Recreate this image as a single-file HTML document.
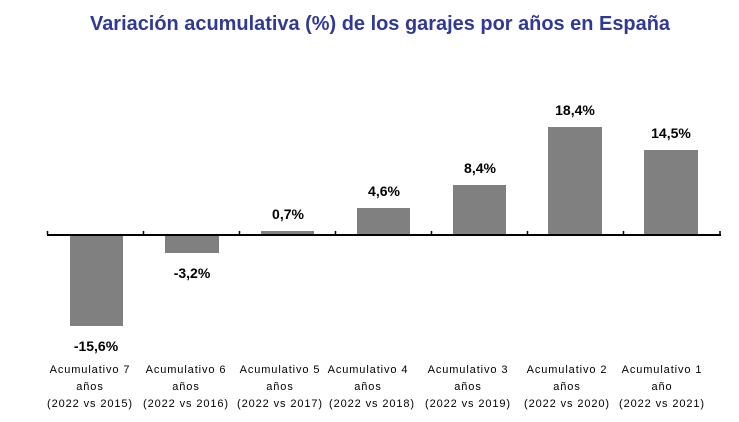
<!DOCTYPE html>
<html><head><meta charset="utf-8"><style>
html,body{margin:0;padding:0;background:#fff;}
svg{display:block;font-family:"Liberation Sans",sans-serif;}
</style></head><body>
<svg width="739" height="422" viewBox="0 0 739 422" xmlns="http://www.w3.org/2000/svg">
<text x="380" y="30" text-anchor="middle" font-size="20" font-weight="bold" fill="#303a96" textLength="580" lengthAdjust="spacingAndGlyphs">Variación acumulativa (%) de los garajes por años en España</text>
<g fill="#808080">
<rect x="70" y="235" width="53" height="91"/>
<rect x="165" y="235" width="54" height="18"/>
<rect x="261" y="231" width="53" height="4"/>
<rect x="357" y="208" width="53" height="27"/>
<rect x="453" y="185" width="53" height="50"/>
<rect x="548" y="127" width="54" height="108"/>
<rect x="644" y="150" width="54" height="85"/>
</g>
<line x1="47" y1="235" x2="721" y2="235" stroke="#000" stroke-width="2"/>
<g stroke="#000" stroke-width="1.5">
<line x1="47.5" y1="231" x2="47.5" y2="235"/><line x1="143.5" y1="231" x2="143.5" y2="235"/><line x1="239.5" y1="231" x2="239.5" y2="235"/><line x1="335.5" y1="231" x2="335.5" y2="235"/><line x1="431.5" y1="231" x2="431.5" y2="235"/><line x1="527.5" y1="231" x2="527.5" y2="235"/><line x1="623.5" y1="231" x2="623.5" y2="235"/><line x1="720" y1="231" x2="720" y2="235"/>
</g>
<g font-size="14" font-weight="bold" text-anchor="middle" fill="#000">
<text x="96" y="351">-15,6%</text>
<text x="192" y="278">-3,2%</text>
<text x="288" y="219">0,7%</text>
<text x="384" y="196">4,6%</text>
<text x="480" y="173">8,4%</text>
<text x="575" y="115">18,4%</text>
<text x="671" y="138">14,5%</text>
</g>
<g font-size="11" text-anchor="middle" fill="#000" letter-spacing="0.9">
<text x="90" y="373">Acumulativo  7</text><text x="90" y="390">años</text><text x="90" y="407">(2022 vs 2015)</text>
<text x="186" y="373">Acumulativo  6</text><text x="186" y="390">años</text><text x="186" y="407">(2022 vs 2016)</text>
<text x="280" y="373">Acumulativo  5</text><text x="280" y="390">años</text><text x="280" y="407">(2022 vs 2017)</text>
<text x="368" y="373">Acumulativo 4</text><text x="368" y="390">años</text><text x="372" y="407">(2022 vs 2018)</text>
<text x="468" y="373">Acumulativo 3</text><text x="468" y="390">años</text><text x="468" y="407">(2022 vs 2019)</text>
<text x="567" y="373">Acumulativo 2</text><text x="567" y="390">años</text><text x="567" y="407">(2022 vs 2020)</text>
<text x="662" y="373">Acumulativo 1</text><text x="662" y="390">año</text><text x="662" y="407">(2022 vs 2021)</text>
</g>
</svg>
</body></html>
